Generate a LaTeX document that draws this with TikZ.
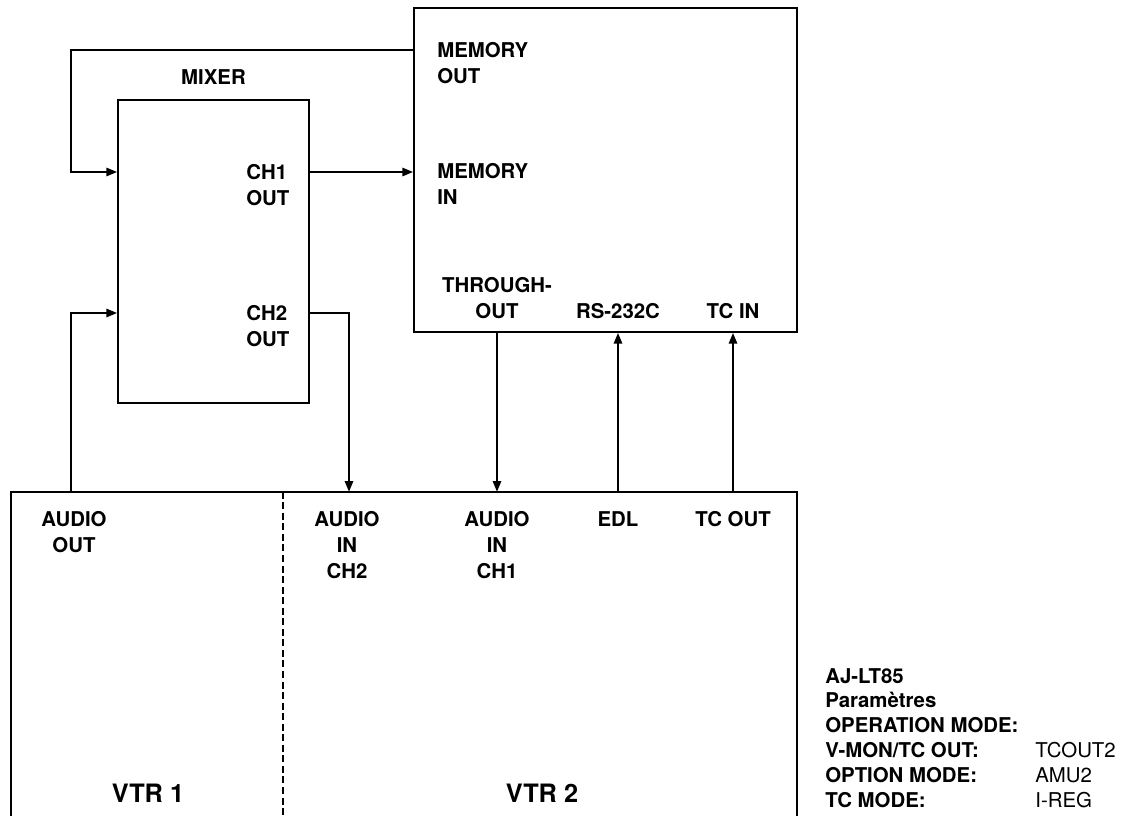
\documentclass[tikz,border=0pt]{standalone}
\usepackage{fontspec}
\setmainfont{TeX Gyre Heros}
\usetikzlibrary{positioning, arrows.meta}

\begin{document}
\begin{tikzpicture}[
    x=0.025cm, y=-0.025cm,
    unit/.style={
        draw,
        line width=1.4pt,
        inner sep=0pt
    },
    port/.style={
        font=\bfseries\fontsize{14.5}{18.4}\selectfont,
        align=center,
        anchor=base,
        inner sep=0pt
    },
    portleft/.style={
        port,
        align=left,
        anchor=base west
    },
    vtrname/.style={
        font=\bfseries\fontsize{18}{21}\selectfont,
        anchor=base,
        inner sep=0pt
    },
    sig/.style={
        line width=1pt,
        -{Triangle[length=7.5pt, width=6pt]}
    },
    divider/.style={
        line width=0.9pt,
        dash pattern=on 5pt off 2.5pt
    }
]
\useasboundingbox (0,0) rectangle (1127,816);

% ==========================================
% UNITS
% ==========================================
\node[unit, minimum width=4.775cm, minimum height=7.575cm] (mixer) at (213.5,251.5) {};
\node[unit, minimum width=9.575cm, minimum height=8.1cm] (memory) at (605.5,170) {};
\node[inner sep=0pt, minimum width=19.65cm, minimum height=8.1cm] (vtr) at (404,654) {};
% VTR frame runs off the bottom of the page
\draw[line width=1.4pt] (vtr.south west) -- (vtr.north west) -- (vtr.north east) -- (vtr.south east);

\coordinate (split) at (283,0);
\draw[divider] (split |- vtr.north) -- (split |- vtr.south);

\node[port, above=0.35cm of mixer] (mixname) {MIXER};

% ==========================================
% PORT LABELS (anchored on the last line)
% ==========================================
\node[portleft] (memout) at (437,83) {MEMORY\\OUT};
\node[portleft] (memin) at (437,204) {MEMORY\\IN};
\node[portleft] (ch1out) at (246,205) {CH1\\OUT};
\node[portleft] (ch2out) at (246,346) {CH2\\OUT};
\node[port] (through) at (497,318) {THROUGH-\\OUT};
\node[port] (rs) at (618,318) {RS-232C};
\node[port] (tcin) at (733,318) {TC IN};

\node[port] (audout) at (74,552) {AUDIO\\OUT};
\node[port] (inch2) at (347,578) {AUDIO\\IN\\CH2};
\node[port] (inch1) at (497,578) {AUDIO\\IN\\CH1};
\node[port] (edl) at (618,526) {EDL};
\node[port] (tcout) at (733,526) {TC OUT};

\node[vtrname] (vtr1) at (148,802) {VTR 1};
\node[vtrname] (vtr2) at (542,802) {VTR 2};

% ==========================================
% CONNECTIONS
% ==========================================
\coordinate (memtap) at (0,50);
\coordinate (ret) at (71,172);
\coordinate (aout) at (71,313);
\coordinate (ch2) at (349,313);

\draw[sig] (memory.west |- memtap) -| (ret) -- (mixer.west |- ret);
\draw[sig] (mixer.east |- ret) -- (memory.west |- ret);
\draw[sig] (mixer.east |- ch2) -| (ch2 |- vtr.north);
\draw[sig] (aout |- vtr.north) |- (mixer.west |- aout);
\draw[sig] (through |- memory.south) -- (through |- vtr.north);
\draw[sig] (edl |- vtr.north) -- (edl |- memory.south);
\draw[sig] (tcout |- vtr.north) -- (tcout |- memory.south);

% Settings
\node[anchor=base west, inner sep=0pt, font=\fontsize{14.5}{17.7}\selectfont] (params) at (825,683) {%
    \begin{tabular}[t]{@{}p{5.25cm}@{}l@{}}
    \textbf{AJ-LT85} & \\
    \textbf{Paramètres} & \\
    \textbf{OPERATION MODE:} & \\
    \textbf{V-MON/TC OUT:} & TCOUT2\\
    \textbf{OPTION MODE:} & AMU2\\
    \textbf{TC MODE:} & I-REG
    \end{tabular}};

\end{tikzpicture}
\end{document}
